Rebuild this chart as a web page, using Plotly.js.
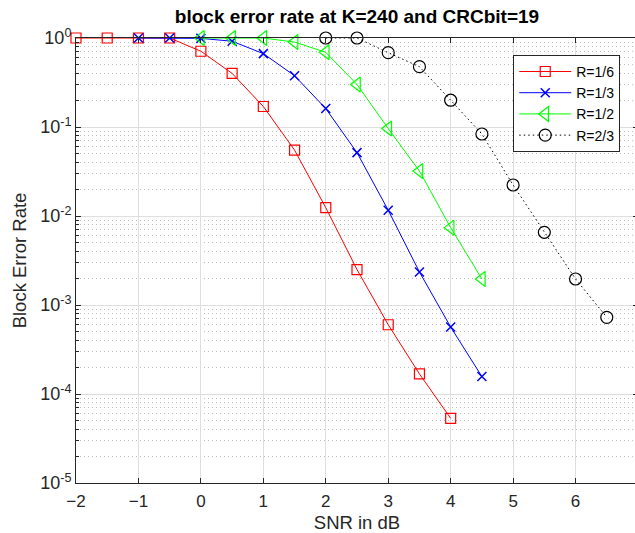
<!DOCTYPE html>
<html>
<head>
<meta charset="utf-8">
<script src="https://cdn.plot.ly/plotly-3.0.1.min.js"></script>
<style>
html,body{margin:0;padding:0;overflow:hidden;background:#fff;}
#chart{width:640px;height:533px;}
</style>
</head>
<body>
<div id="chart"></div>
<script>
// Data
var snr16 = [-2, -1.5, -1, -0.5, 0, 0.5, 1, 1.5, 2, 2.5, 3, 3.5, 4];
var bler16 = [1, 1, 1, 1, 0.71, 0.40, 0.17, 0.055, 0.0124, 0.0025, 0.0006, 0.000168, 0.0000533];

var snr13 = [-1, -0.5, 0, 0.5, 1, 1.5, 2, 2.5, 3, 3.5, 4, 4.5];
var bler13 = [1, 1, 0.99, 0.92, 0.667, 0.377, 0.161, 0.0515, 0.0116, 0.00235, 0.000566, 0.000157];

var snr12 = [0, 0.5, 1, 1.5, 2, 2.5, 3, 3.5, 4, 4.5];
var bler12 = [1, 1, 1, 0.9, 0.69, 0.30, 0.096, 0.032, 0.0074, 0.00196];

var snr23 = [2, 2.5, 3, 3.5, 4, 4.5, 5, 5.5, 6, 6.5];
var bler23 = [1, 1, 0.684, 0.476, 0.2, 0.0834, 0.0223, 0.00656, 0.00196, 0.000727];

var seriesNames = ['R=1/6', 'R=1/3', 'R=1/2', 'R=2/3'];

var xTickVals = [-2, -1, 0, 1, 2, 3, 4, 5, 6, 7];
var yTickVals = [1, 0.1, 0.01, 0.001, 0.0001, 0.00001];
var yTickText = ['10<sup>0</sup>', '10<sup>-1</sup>', '10<sup>-2</sup>', '10<sup>-3</sup>', '10<sup>-4</sup>', '10<sup>-5</sup>'];

// minor log grid positions (2..9 within each decade)
var yMinor = [];
for (var e = -5; e < 0; e++) {
  for (var m = 2; m <= 9; m++) yMinor.push(m * Math.pow(10, e));
}

var axColor = '#262626';
var font = 'Liberation Sans, Arial, Helvetica, sans-serif';

var traces = [
  {x: snr16, y: bler16, name: seriesNames[0], mode: 'lines+markers', cliponaxis: false,
   line: {color: '#ff0000', width: 1},
   marker: {symbol: 'square-open', size: 10, color: '#ff0000', line: {width: 1.2, color: '#ff0000'}}},
  {x: snr13, y: bler13, name: seriesNames[1], mode: 'lines+markers', cliponaxis: false,
   line: {color: '#0000ff', width: 1},
   marker: {symbol: 'x-thin-open', size: 9, color: '#0000ff', line: {width: 1.5, color: '#0000ff'}}},
  {x: snr12, y: bler12, name: seriesNames[2], mode: 'lines+markers', cliponaxis: false,
   line: {color: '#00ff00', width: 1},
   marker: {symbol: 'triangle-left-open', size: 13, color: '#00ff00', line: {width: 1.2, color: '#00ff00'}}},
  {x: snr23, y: bler23, name: seriesNames[3], mode: 'lines+markers', cliponaxis: false,
   line: {color: '#000000', width: 1, dash: '1.5px,3px'},
   marker: {symbol: 'circle-open', size: 12, color: '#000000', line: {width: 1.2, color: '#000000'}}}
];

var layout = {
  width: 640, height: 533,
  margin: {l: 76, r: 2, t: 38, b: 50},
  paper_bgcolor: '#ffffff', plot_bgcolor: '#ffffff',
  font: {family: font, size: 17, color: axColor},
  title: {text: '<b>block error rate at K=240 and CRCbit=19</b>', font: {family: font, size: 19, color: '#000'},
          x: 0.5, xref: 'paper', xanchor: 'center', y: 1, yref: 'container', yanchor: 'top', pad: {t: 10}},
  showlegend: true,
  legend: {x: 0.778, y: 0.962, xanchor: 'left', yanchor: 'top', bgcolor: '#ffffff',
           bordercolor: axColor, borderwidth: 1, font: {family: font, size: 14, color: '#000'},
           itemwidth: 52, tracegroupgap: 0},
  xaxis: {
    range: [-2, 7], tickmode: 'array', tickvals: xTickVals,
    showline: true, linecolor: axColor, linewidth: 1, mirror: 'ticks',
    ticks: 'inside', ticklen: 5, tickcolor: axColor,
    showgrid: true, gridcolor: '#dedede', gridwidth: 1, zeroline: false,
    tickfont: {family: font, size: 17, color: axColor}, ticklabelstandoff: 3,
    title: {text: 'SNR in dB', font: {family: font, size: 18.5, color: axColor}, standoff: 5}
  },
  yaxis: {
    type: 'log', range: [-5, 0], tickmode: 'array', tickvals: yTickVals, ticktext: yTickText,
    showline: true, linecolor: axColor, linewidth: 1, mirror: 'ticks',
    ticks: 'inside', ticklen: 5, tickcolor: axColor,
    showgrid: true, gridcolor: '#dedede', gridwidth: 1, zeroline: false,
    tickfont: {family: font, size: 18, color: axColor},
    minor: {tickmode: 'array', tickvals: yMinor, ticks: 'inside', ticklen: 3, tickcolor: axColor,
            showgrid: true, gridcolor: '#bdbdbd', griddash: '1px,3px', gridwidth: 1},
    title: {text: 'Block Error Rate', font: {family: font, size: 18.5, color: axColor}, standoff: 8}
  }
};

Plotly.newPlot('chart', traces, layout, {displayModeBar: false, staticPlot: true});
</script>
</body>
</html>
